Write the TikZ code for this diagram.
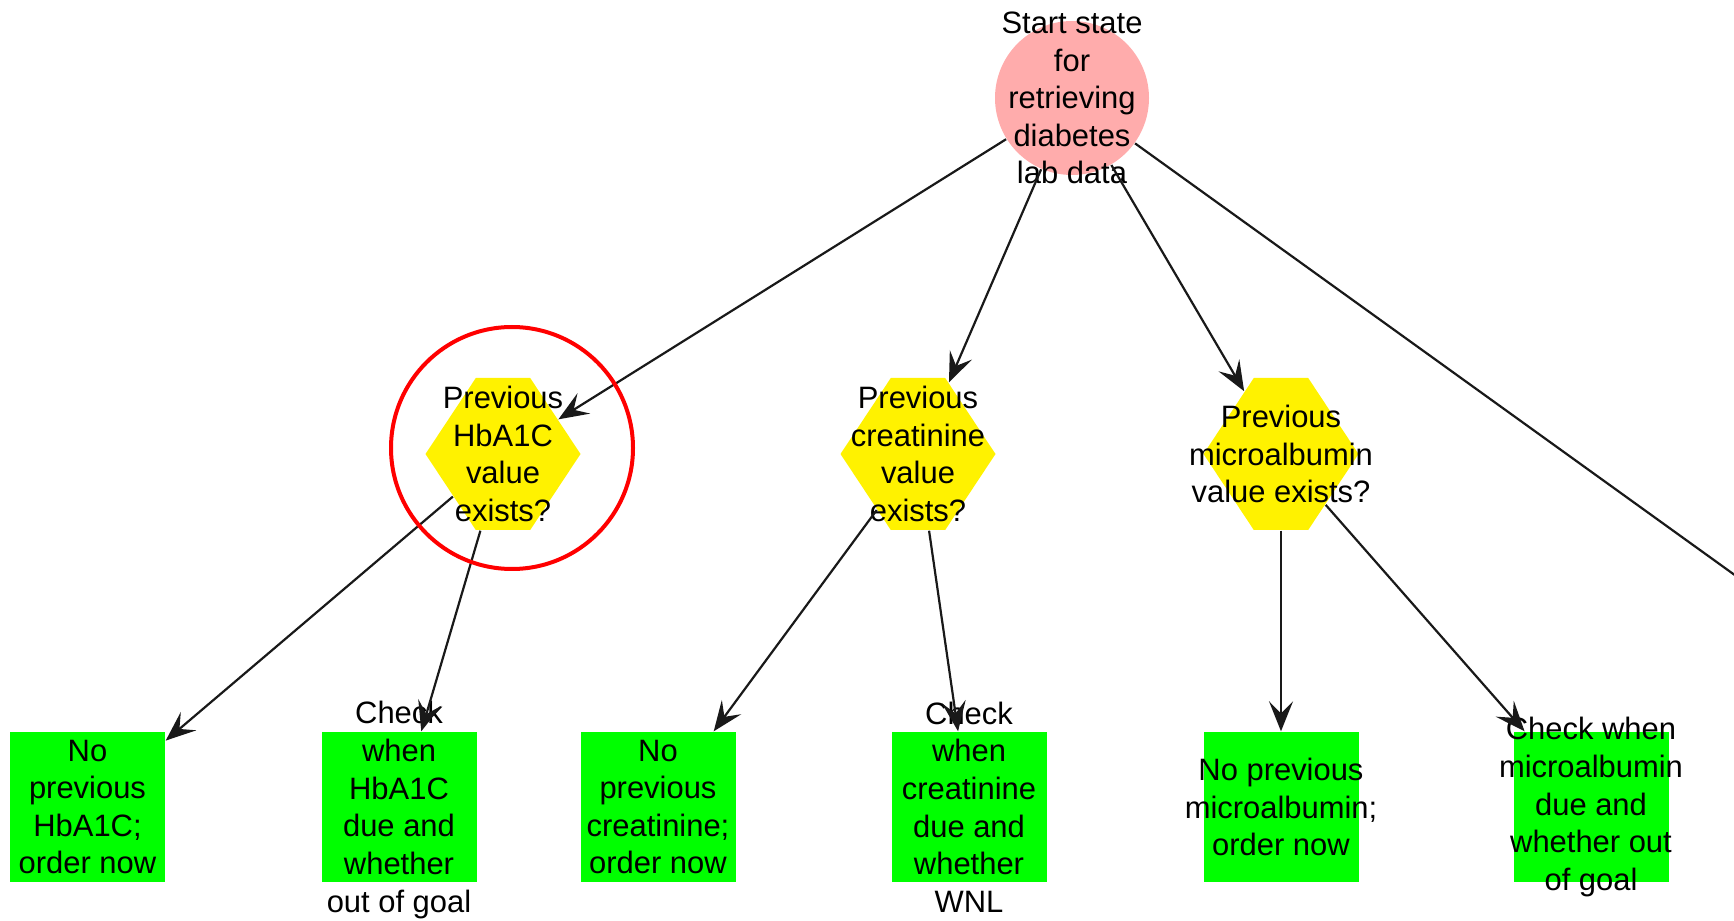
\documentclass[tikz,border=0pt]{standalone}
\usepackage{fontspec}
\setmainfont{Liberation Sans}
\usepackage{xcolor}
\usepackage{tikz}
\usetikzlibrary{shapes.geometric, shapes.symbols, arrows.meta}

\definecolor{statepink}{RGB}{255,172,172}

\begin{document}
\begin{tikzpicture}[
    state/.style={circle, fill=statepink, minimum size=1.54cm, inner sep=0},
    decision/.style={signal, signal to=east and west, signal pointer angle=113, fill=yellow, minimum width=1.55cm, minimum height=1.52cm, inner sep=0},
    action/.style={rectangle, fill=green, minimum width=1.55cm, minimum height=1.5cm, inner sep=0},
    txt/.style={align=center, inner sep=0, font=\fontsize{8.8}{10.7}\selectfont},
    arrow/.style={-{Stealth[length=0.3cm, width=0.24cm, inset=0.12cm]}, draw=black!90, line width=0.022cm},
    highlight/.style={circle, draw=red, line width=0.04cm, minimum size=2.42cm, inner sep=0}
]
    \clip (0,0) rectangle (17.34,-9.21);

    \node[state] (start) at (10.72,-0.98) {};
    \node[decision] (hba1c_q) at (5.03,-4.54) {};
    \node[decision] (creat_q) at (9.18,-4.54) {};
    \node[decision] (malb_q) at (12.81,-4.54) {};
    \node[action] (hba1c_none) at (0.875,-8.07) {};
    \node[action] (hba1c_check) at (3.99,-8.07) {};
    \node[action] (creat_none) at (6.58,-8.07) {};
    \node[action] (creat_check) at (9.69,-8.07) {};
    \node[action] (malb_none) at (12.81,-8.07) {};
    \node[action] (malb_check) at (15.91,-8.07) {};
    \coordinate (next_lab) at (18.0,-6.22);

    \node[txt] (start_t) at (start) {Start state\\for\\retrieving\\diabetes\\lab data};
    \node[txt] (hba1c_q_t) at (hba1c_q) {Previous\\HbA1C\\value\\exists?};
    \node[txt] (creat_q_t) at (creat_q) {Previous\\creatinine\\value\\exists?};
    \node[txt] (malb_q_t) at (malb_q) {Previous\\microalbumin\\value exists?};
    \node[txt] (hba1c_none_t) at (hba1c_none) {No\\previous\\HbA1C;\\order now};
    \node[txt] (hba1c_check_t) at (3.99,-8.10) {Check\\when\\HbA1C\\due and\\whether\\out of goal};
    \node[txt] (creat_none_t) at (creat_none) {No\\previous\\creatinine;\\order now};
    \node[txt] (creat_check_t) at (creat_check) {Check\\when\\creatinine\\due and\\whether\\WNL};
    \node[txt] (malb_none_t) at (malb_none) {No previous\\microalbumin;\\order now};
    \node[txt] (malb_check_t) at (malb_check) {Check when\\microalbumin\\due and\\whether out\\of goal};

    \draw[arrow] (start) -- (hba1c_q);
    \draw[arrow] (start) -- (creat_q);
    \draw[arrow] (start) -- (malb_q);
    \draw[arrow] (start) -- (next_lab);
    \draw[arrow] (hba1c_q) -- (hba1c_none);
    \draw[arrow] (hba1c_q) -- (hba1c_check);
    \draw[arrow] (creat_q) -- (creat_none);
    \draw[arrow] (creat_q) -- (creat_check);
    \draw[arrow] (malb_q) -- (malb_none);
    \draw[arrow] (malb_q) -- (malb_check);

    \node[highlight] (hba1c_ring) at (5.12,-4.48) {};
\end{tikzpicture}
\end{document}
